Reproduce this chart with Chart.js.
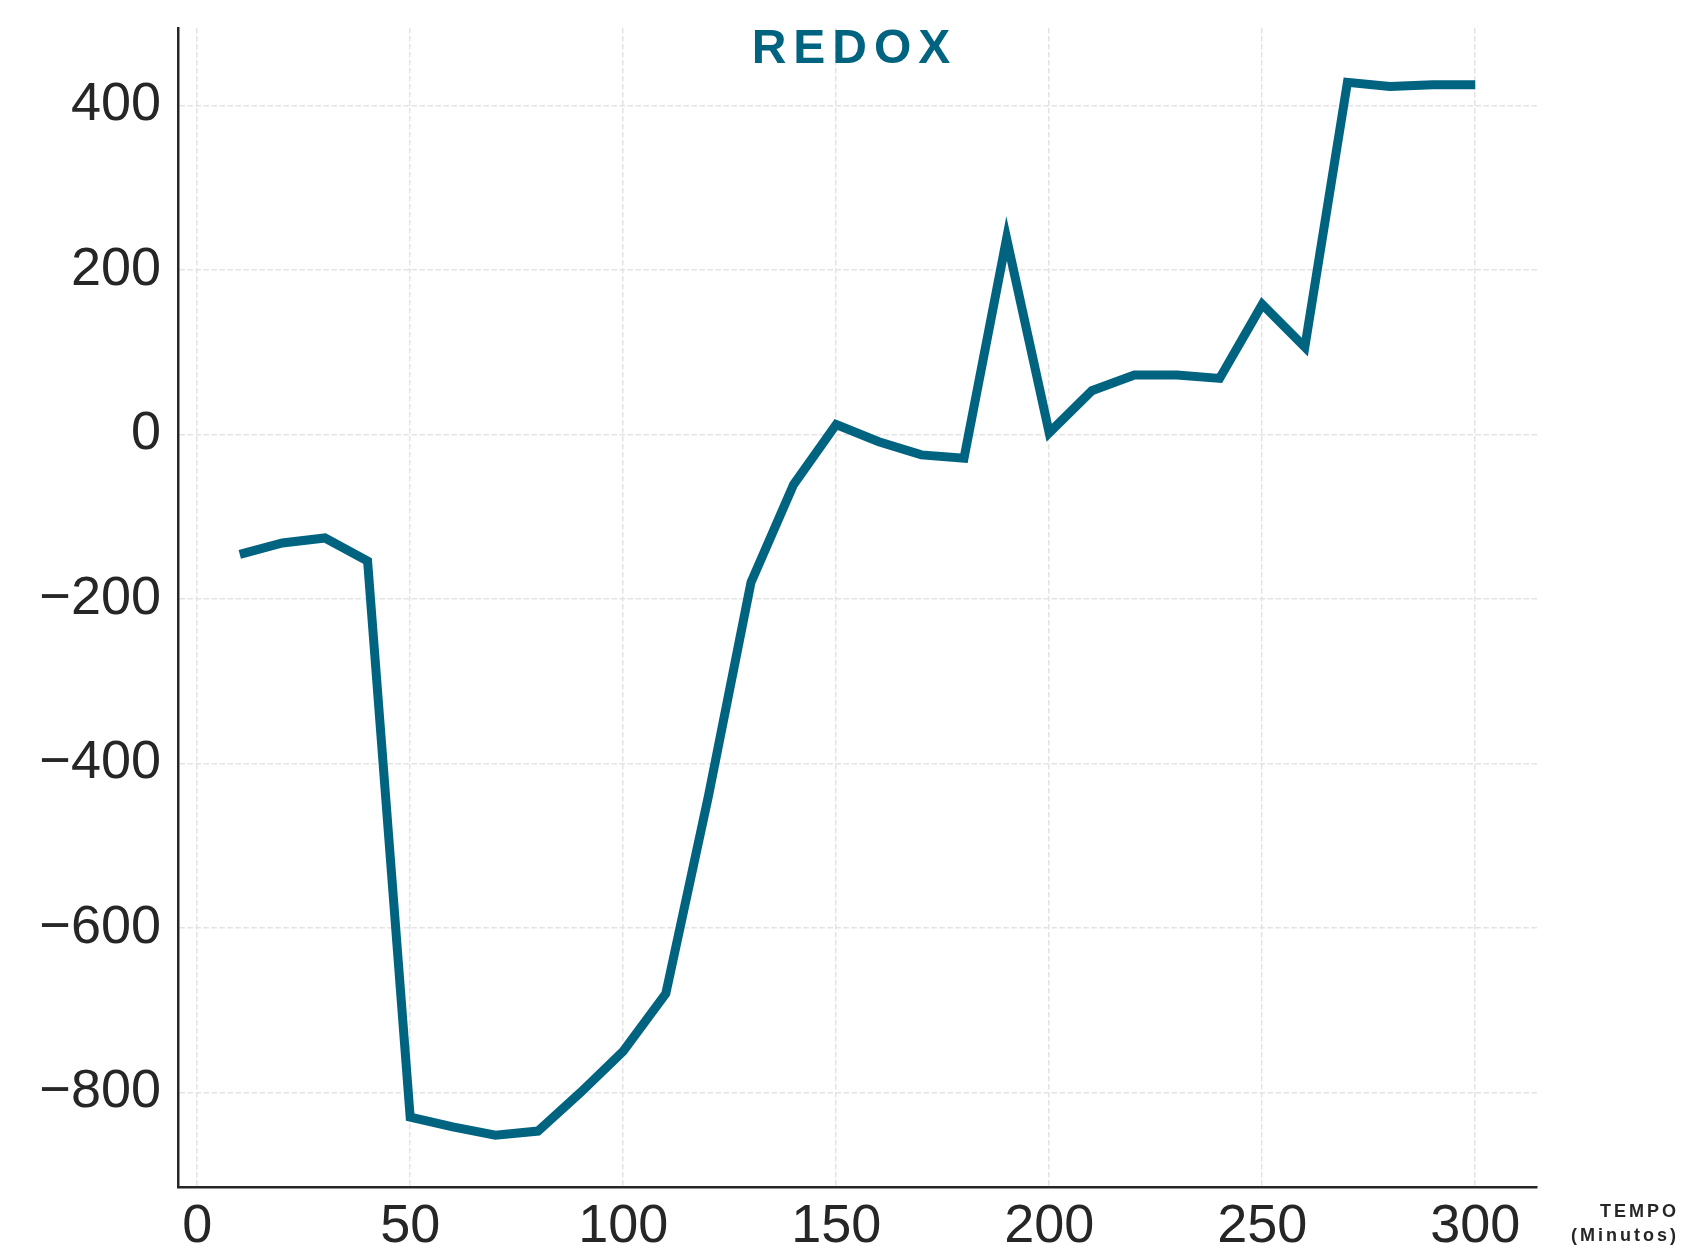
<!DOCTYPE html>
<html>
<head>
<meta charset="utf-8">
<script src="https://cdn.jsdelivr.net/npm/chart.js@4/dist/chart.umd.min.js"></script>
<style>
  html, body { margin: 0; padding: 0; background: #fff; }
  canvas { display: block; }
</style>
</head>
<body>
<canvas id="chart" width="1681" height="1248"></canvas>
<script>
// time in minutes
const minutes = [10, 20, 30, 40, 50, 60, 70, 80, 90, 100,
                 110, 120, 130, 140, 150, 160, 170, 180, 190, 200,
                 210, 220, 230, 240, 250, 260, 270, 280, 290, 300];
// redox potential readings
const redox = [-146, -132, -126, -154, -830, -842, -852, -847, -800, -750,
               -680, -440, -180, -61, 12, -9, -25, -29, 238, 2,
               53, 72, 72, 68, 158, 106, 428, 423, 425, 425];

const xTicks = [0, 50, 100, 150, 200, 250, 300];
const yTicks = [-800, -600, -400, -200, 0, 200, 400];

const lineColor = "#006480";
const inkColor = "#262626";
const fontFamily = '"Liberation Sans", Arial, sans-serif';

// title and axis caption drawn on top of the plot
const textPlugin = {
  id: "texts",
  afterDraw(chart) {
    const { ctx, chartArea } = chart;
    ctx.save();
    ctx.textBaseline = "alphabetic";

    ctx.fillStyle = lineColor;
    ctx.font = "bold 48px " + fontFamily;
    ctx.letterSpacing = "7px";
    ctx.textAlign = "center";
    ctx.fillText("REDOX", (chartArea.left + chartArea.right) / 2 - 3, chartArea.top + 35);

    ctx.fillStyle = inkColor;
    ctx.font = "bold 18px " + fontFamily;
    ctx.letterSpacing = "3px";
    ctx.textAlign = "right";
    ctx.fillText("TEMPO", 1679, chartArea.bottom + 30);
    ctx.fillText("(Minutos)", 1679, chartArea.bottom + 54);
    ctx.restore();
  },
};

new Chart(document.getElementById("chart"), {
  type: "line",
  data: {
    datasets: [
      {
        label: "REDOX",
        data: minutes.map((m, i) => ({ x: m, y: redox[i] })),
        borderColor: lineColor,
        borderWidth: 9,
        borderJoinStyle: "miter",
        pointRadius: 0,
        fill: false,
        tension: 0,
      },
    ],
  },
  options: {
    responsive: false,
    animation: false,
    devicePixelRatio: 1,
    layout: { padding: { top: 28, right: 144, left: 0, bottom: 0 } },
    plugins: {
      legend: { display: false },
      title: { display: false },
      tooltip: { enabled: false },
    },
    scales: {
      x: {
        type: "linear",
        min: -4.5,
        max: 314.5,
        afterBuildTicks: (s) => { s.ticks = xTicks.map((v) => ({ value: v })); },
        afterFit: (s) => { s.height = 61; s.paddingLeft = 0; s.paddingRight = 0; },
        grid: { color: "#e3e3e3", lineWidth: 1.5, drawTicks: false },
        border: { display: true, color: inkColor, width: 2.5, dash: [5.5, 2.5] },
        ticks: {
          padding: 8,
          color: inkColor,
          font: { family: fontFamily, size: 54 },
          maxRotation: 0,
          autoSkip: false,
        },
      },
      y: {
        type: "linear",
        min: -915,
        max: 494,
        afterBuildTicks: (s) => { s.ticks = yTicks.map((v) => ({ value: v })); },
        afterFit: (s) => { s.width = 178; s.paddingTop = 0; s.paddingBottom = 0; },
        grid: { color: "#e3e3e3", lineWidth: 1.5, drawTicks: false },
        border: { display: true, color: inkColor, width: 2.5, dash: [5.5, 2.5] },
        ticks: {
          padding: 17,
          color: inkColor,
          font: { family: fontFamily, size: 54 },
          callback: (v) => (v < 0 ? "\u2212" + Math.abs(v) : String(v)),
        },
      },
    },
  },
  plugins: [textPlugin],
});
</script>
</body>
</html>
